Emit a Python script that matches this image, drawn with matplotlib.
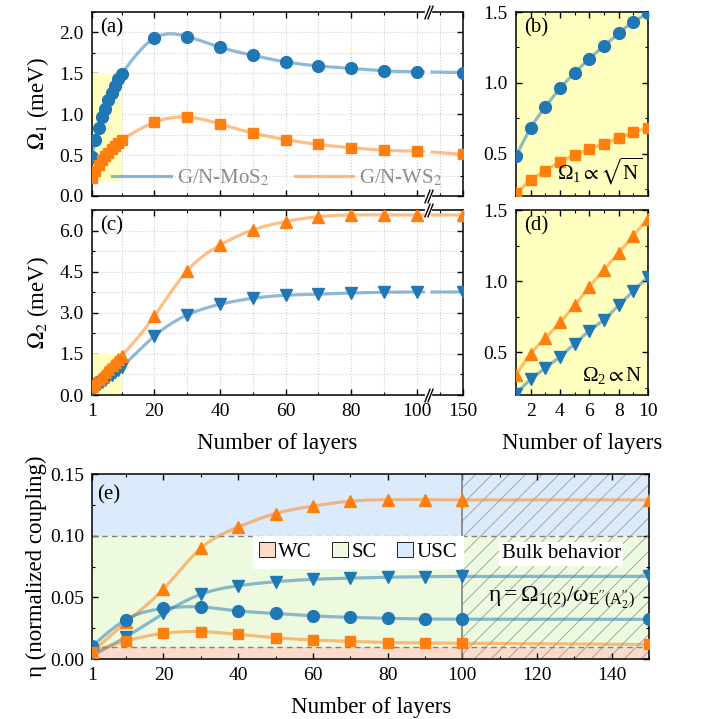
import numpy as np
import matplotlib
matplotlib.use("Agg")
import matplotlib.pyplot as plt
import matplotlib.transforms as mtransforms
from matplotlib.patches import Rectangle, Patch
from matplotlib.lines import Line2D
from matplotlib.ticker import MultipleLocator, FixedLocator, FormatStrFormatter

plt.rcParams['font.family'] = ['Liberation Serif', 'DejaVu Serif']
plt.rcParams['mathtext.fontset'] = 'stix'
plt.rcParams['hatch.linewidth'] = 0.6
plt.rcParams['hatch.color'] = '#9a9a9a'

# ---- data ----
n_small = [1, 2, 3, 4, 5, 6, 7, 8, 9, 10]
n_big = [20, 30, 40, 50, 60, 70, 80, 90, 100, 150]

# Omega_1 (meV)
mos2_w1_small = [0.48, 0.68, 0.83, 0.96, 1.07, 1.17, 1.26, 1.35, 1.43, 1.49]
mos2_w1_big = [1.93, 1.95, 1.82, 1.72, 1.64, 1.59, 1.56, 1.53, 1.52, 1.51]
ws2_w1_small = [0.22, 0.31, 0.38, 0.44, 0.49, 0.53, 0.57, 0.61, 0.65, 0.68]
ws2_w1_big = [0.90, 0.965, 0.88, 0.77, 0.69, 0.63, 0.59, 0.56, 0.55, 0.51]

# Omega_2 (meV)
mos2_w2_small = [0.21, 0.31, 0.39, 0.47, 0.56, 0.65, 0.73, 0.83, 0.93, 1.03]
mos2_w2_big = [2.15, 2.92, 3.31, 3.53, 3.64, 3.68, 3.72, 3.75, 3.76, 3.76]
ws2_w2_small = [0.34, 0.49, 0.60, 0.71, 0.83, 0.96, 1.08, 1.20, 1.32, 1.44]
ws2_w2_big = [2.88, 4.53, 5.47, 6.02, 6.33, 6.51, 6.57, 6.57, 6.57, 6.57]

# normalized coupling eta
n_eta = [1, 10, 20, 30, 40, 50, 60, 70, 80, 90, 100, 150]
eta_mos2_w1 = [0.0105, 0.032, 0.041, 0.0422, 0.039, 0.037, 0.035, 0.0338, 0.033, 0.0325, 0.0323, 0.0322]
eta_ws2_w1 = [0.006, 0.0146, 0.0208, 0.0222, 0.020, 0.0173, 0.0154, 0.0143, 0.0134, 0.013, 0.0128, 0.0118]
eta_mos2_w2 = [0.003, 0.018, 0.037, 0.0525, 0.0594, 0.0627, 0.0646, 0.0656, 0.0663, 0.0668, 0.0670, 0.0670]
eta_ws2_w2 = [0.006, 0.0298, 0.0568, 0.0898, 0.107, 0.118, 0.124, 0.128, 0.1292, 0.1292, 0.1290, 0.1290]

BLUE = '#1f77b4'
ORANGE = '#ff7f0e'
YELLOW = '#ffffbf'
K = 0.28  # compression of the part after the axis break


def fwd(x):
    x = np.asarray(x, dtype=float)
    return np.where(x <= 100, x, 100 + (x - 100) * K)


def inv(x):
    x = np.asarray(x, dtype=float)
    return np.where(x <= 100, x, 100 + (x - 100) / K)


def spline(x, y, num=300):
    # natural cubic spline, only used to draw the smooth connecting line
    x = np.asarray(x, float)
    y = np.asarray(y, float)
    n = len(x)
    h = np.diff(x)
    A = np.zeros((n, n))
    r = np.zeros(n)
    A[0, 0] = A[-1, -1] = 1
    for i in range(1, n - 1):
        A[i, i - 1] = h[i - 1]
        A[i, i] = 2 * (h[i - 1] + h[i])
        A[i, i + 1] = h[i]
        r[i] = 6 * ((y[i + 1] - y[i]) / h[i] - (y[i] - y[i - 1]) / h[i - 1])
    m = np.linalg.solve(A, r)
    xs = np.linspace(x[0], x[-1], num)
    k = np.clip(np.searchsorted(x, xs) - 1, 0, n - 2)
    hk = h[k]
    a = (x[k + 1] - xs) / hk
    b = (xs - x[k]) / hk
    ys = a * y[k] + b * y[k + 1] + ((a ** 3 - a) * m[k] + (b ** 3 - b) * m[k + 1]) * hk ** 2 / 6
    return xs, ys


def curve(x, y, gap=False):
    xs, ys = spline(x[:-1], y[:-1])
    xt = np.linspace(x[-2], x[-1], 80)
    yt = np.interp(xt, x[-2:], y[-2:])
    xs = np.concatenate([xs, xt])
    ys = np.concatenate([ys, yt])
    if gap:
        ys = np.where((xs > 107.5) & (xs < 116), np.nan, ys)
    return xs, ys


def style_ticks(ax):
    ax.tick_params(which='both', direction='in', top=True, right=True, labelsize=14, pad=6)
    ax.tick_params(which='major', length=4.5, width=1)
    ax.tick_params(which='minor', length=2.5, width=0.8)
    for s in ax.spines.values():
        s.set_linewidth(1.1)


fig = plt.figure(figsize=(7.05, 7.19), dpi=100)
ax_a = fig.add_axes([0.1305, 0.7274, 0.526, 0.2559])
ax_c = fig.add_axes([0.1305, 0.4506, 0.526, 0.2573])
ax_b = fig.add_axes([0.7319, 0.7274, 0.1872, 0.2559])
ax_d = fig.add_axes([0.7319, 0.4506, 0.1872, 0.2573])
ax_e = fig.add_axes([0.1312, 0.0834, 0.7894, 0.2573])

line_kw = dict(lw=2.3, alpha=0.5, zorder=3)

# ---- (a) and (c): broken x axis ----
sets_ac = [
    (ax_a, [(mos2_w1_small, mos2_w1_big, BLUE, 'o', 8.5), (ws2_w1_small, ws2_w1_big, ORANGE, 's', 7.5)],
     (0, 2.25), 0.5, 0.25, r'$\Omega_1$ (meV)', '(a)', 0.17),
    (ax_c, [(mos2_w2_small, mos2_w2_big, BLUE, 'v', 8.5), (ws2_w2_small, ws2_w2_big, ORANGE, '^', 8.5)],
     (0, 6.75), 1.5, 0.75, r'$\Omega_2$ (meV)', '(c)', 0.0),
]
for ax, series, ylim, major, minor, ylabel, tag, rect_y0 in sets_ac:
    ax.set_xscale('function', functions=(fwd, inv))
    ax.set_xlim(1, 150)
    ax.set_ylim(*ylim)
    ax.xaxis.set_major_locator(FixedLocator([1, 20, 40, 60, 80, 100, 150]))
    ax.xaxis.set_minor_locator(FixedLocator([10, 30, 50, 70, 90, 125]))
    ax.yaxis.set_major_locator(MultipleLocator(major))
    ax.yaxis.set_minor_locator(MultipleLocator(minor))
    ax.yaxis.set_major_formatter(FormatStrFormatter('%.1f'))
    ax.grid(True, which='both', ls=':', lw=0.8, color='#cfcfcf', zorder=0)
    ax.set_axisbelow(True)
    ax.add_patch(Rectangle((1, rect_y0), 9, 1.5 - rect_y0, facecolor=YELLOW, edgecolor='none', zorder=1))
    for small, big, col, mk, ms in series:
        x = n_small + n_big
        y = small + big
        xs, ys = curve(x, y, gap=True)
        ax.plot(xs, ys, color=col, **line_kw)
        ax.plot(x, y, ls='none', marker=mk, ms=ms, color=col, zorder=4)
    ax.set_ylabel(ylabel, fontsize=16.5, labelpad=6)
    ax.text(0.022, 0.965, tag, transform=ax.transAxes, fontsize=15, va='top', ha='left')
    style_ticks(ax)
    # break marks
    tr = mtransforms.blended_transform_factory(ax.transData, ax.transAxes)
    for yy in (0, 1):
        ax.plot([110.5, 114.5], [yy, yy], color='white', lw=3, transform=tr, clip_on=False, zorder=6)
        ax.plot([110.5, 114.5], [yy, yy], ls='none', marker=[(-0.6, -1.5), (0.6, 1.5)], ms=10,
                mec='k', mew=1, transform=tr, clip_on=False, zorder=7)

ax_a.tick_params(labelbottom=False)
ax_c.set_xticklabels(['1', '20', '40', '60', '80', '100', '150'])
ax_c.set_xlabel('Number of layers', fontsize=16.5, labelpad=9)

leg_handles = [Line2D([], [], color=BLUE, lw=2.3, alpha=0.5), Line2D([], [], color=ORANGE, lw=2.3, alpha=0.5)]
ax_a.legend(leg_handles, [r'G/N-MoS$_2$', r'G/N-WS$_2$'], loc='center', bbox_to_anchor=(0.5, 0.1),
            ncol=2, frameon=False, fontsize=15, labelcolor='#8c8c8c', handlelength=2.8,
            columnspacing=1.2, handletextpad=0.3)

# ---- (b) and (d): first ten layers ----
sets_bd = [
    (ax_b, [(mos2_w1_small, BLUE, 'o', 8.5), (ws2_w1_small, ORANGE, 's', 7.5)], '(b)',
     r'$\mathregular{Ω_1 \propto \sqrt{N}}$'),
    (ax_d, [(ws2_w2_small, ORANGE, '^', 8.5), (mos2_w2_small, BLUE, 'v', 8.5)], '(d)',
     r'$\mathregular{Ω_2 \propto N}$'),
]
for ax, series, tag, label in sets_bd:
    ax.set_facecolor(YELLOW)
    ax.set_xlim(1, 10)
    ax.set_ylim(0.2, 1.5)
    ax.xaxis.set_major_locator(MultipleLocator(2))
    ax.xaxis.set_minor_locator(MultipleLocator(1))
    ax.yaxis.set_major_locator(FixedLocator([0.5, 1.0, 1.5]))
    ax.yaxis.set_minor_locator(FixedLocator([0.25, 0.75, 1.25]))
    ax.yaxis.set_major_formatter(FormatStrFormatter('%.1f'))
    for y, col, mk, ms in series:
        xs, ys = spline(n_small, y)
        ax.plot(xs, ys, color=col, **line_kw)
        ax.plot(n_small, y, ls='none', marker=mk, ms=ms, color=col, zorder=4)
    ax.text(0.06, 0.965, tag, transform=ax.transAxes, fontsize=15, va='top', ha='left')
    ax.text(0.96, 0.05, label, transform=ax.transAxes, fontsize=15, va='bottom', ha='right', zorder=6)
    style_ticks(ax)

ax_b.tick_params(labelbottom=False)
ax_d.set_xlabel('Number of layers', fontsize=16.5, labelpad=9)

# ---- (e): normalized coupling ----
ax = ax_e
ax.set_xlim(1, 150)
ax.set_ylim(0, 0.15)
WC_C, SC_C, USC_C = '#fddac9', '#eefadf', '#dcebfb'
ax.axhspan(0, 0.01, color=WC_C, lw=0, zorder=0)
ax.axhspan(0.01, 0.10, color=SC_C, lw=0, zorder=0)
ax.axhspan(0.10, 0.15, color=USC_C, lw=0, zorder=0)
ax.add_patch(Rectangle((100, 0), 50, 0.15, facecolor='none', edgecolor='#9a9a9a', hatch='//', lw=0, zorder=1))
for yy in (0.01, 0.10):
    ax.axhline(yy, color='#808080', ls='--', lw=1, dashes=(4, 3), zorder=2)
ax.axvline(100, color='#808080', lw=1.2, zorder=2)

eta_sets = [(eta_ws2_w2, ORANGE, '^', 8.5), (eta_mos2_w2, BLUE, 'v', 8.5),
            (eta_mos2_w1, BLUE, 'o', 8.5), (eta_ws2_w1, ORANGE, 's', 7.5)]
for y, col, mk, ms in eta_sets:
    xs, ys = curve(n_eta, y)
    ax.plot(xs, ys, color=col, **line_kw)
    ax.plot(n_eta, y, ls='none', marker=mk, ms=ms, color=col, zorder=4)

ax.xaxis.set_major_locator(FixedLocator([1, 20, 40, 60, 80, 100, 120, 140]))
ax.xaxis.set_minor_locator(FixedLocator([10, 30, 50, 70, 90, 110, 130, 150]))
ax.yaxis.set_major_locator(MultipleLocator(0.05))
ax.yaxis.set_minor_locator(MultipleLocator(0.025))
ax.yaxis.set_major_formatter(FormatStrFormatter('%.2f'))
style_ticks(ax)
ax.set_xlabel('Number of layers', fontsize=16.5, labelpad=9)
ax.set_ylabel('η (normalized coupling)', fontsize=16.5, labelpad=2)
ax.text(0.008, 0.94, '(e)', transform=ax.transAxes, fontsize=15, va='top', ha='left')

reg_handles = [Patch(facecolor=c, edgecolor='k', lw=0.6) for c in (WC_C, SC_C, USC_C)]
leg = ax.legend(reg_handles, ['WC', 'SC', 'USC'], loc='center', bbox_to_anchor=(0.477, 0.578), ncol=3,
                fontsize=15, handlelength=0.75, handleheight=0.75, handletextpad=0.15, columnspacing=1.0,
                fancybox=False, framealpha=1, edgecolor='white', borderpad=0.3)
leg.set_zorder(6)
ax.text(0.842, 0.568, 'Bulk behavior', transform=ax.transAxes, fontsize=15, ha='center', va='center',
        bbox=dict(facecolor='white', edgecolor='none', pad=2), zorder=6)
ax.text(0.843, 0.33, r"$\mathregular{η = Ω_{1(2)}/ω_{E^{\prime\prime}(A^{\prime\prime}_2)}}$",
        transform=ax.transAxes, fontsize=17, ha='center', va='center', zorder=6)

fig.savefig('out.png', dpi=100)
